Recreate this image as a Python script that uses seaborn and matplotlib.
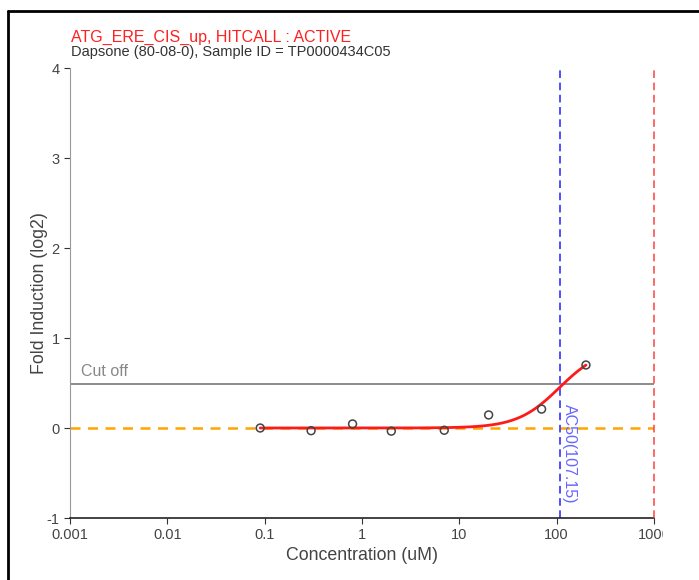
import numpy as np
import pandas as pd
import matplotlib
matplotlib.use("Agg")
import matplotlib.pyplot as plt
from matplotlib.lines import Line2D
from matplotlib.patches import Rectangle
import seaborn as sns

# measured points (concentration uM, fold induction log2)
conc = [0.09, 0.3, 0.8, 2.0, 7.0, 20.0, 70.0, 200.0]
resp = [0.0, -0.03, 0.045, -0.035, -0.025, 0.145, 0.21, 0.70]

# hill fit parameters
hill_top = 0.9
hill_ac50 = 107.15
hill_n = 2.0
cutoff = 0.49

x_ticks = [0.001, 0.01, 0.1, 1, 10, 100, 1000]
x_labels = ["0.001", "0.01", "0.1", "1", "10", "100", "1000"]
y_ticks = [-1, 0, 1, 2, 3, 4]

sns.set_style("ticks")
plt.rcParams['font.family'] = ['Liberation Sans', 'DejaVu Sans']
plt.rcParams['axes.unicode_minus'] = False

df = pd.DataFrame({"conc": conc, "resp": resp})
xf = np.logspace(np.log10(min(conc)), np.log10(max(conc)), 200)
fit = pd.DataFrame({"conc": xf, "resp": hill_top / (1 + (hill_ac50 / xf) ** hill_n)})

fig = plt.figure(figsize=(6.99, 5.8), dpi=100)
ax = fig.add_axes([70/699, 1-518/580, (654-70)/699, (518-68)/580])

ax.axhline(cutoff, color="#8c8c8c", lw=1.4, zorder=1)
ax.axhline(0, color="#ffa500", lw=1.8, ls=(0, (4, 3)), zorder=1)
ax.axvline(hill_ac50, color="#2020ff", lw=1.1, ls=(0, (5, 3)), zorder=1)
ax.axvline(1000, color="#ff4040", lw=1.1, ls=(0, (5, 3)), zorder=5, clip_on=False)

sns.lineplot(data=fit, x="conc", y="resp", color="#ff1a1a", lw=2, ax=ax, zorder=3)
sns.scatterplot(data=df, x="conc", y="resp", marker="o", s=32, facecolor="none",
                edgecolor="#444444", linewidth=1.1, ax=ax, zorder=4)

ax.set_xscale("log")
ax.set_xlim(0.001, 1000)
ax.set_ylim(-1, 4)
ax.set_xticks(x_ticks)
ax.set_xticklabels(x_labels)
ax.set_yticks(y_ticks)
ax.minorticks_off()
ax.tick_params(colors="#333333", labelsize=10.5, length=4, labelcolor="#444444")

ax.text(0.0013, cutoff + 0.05, "Cut off", color="#888888", fontsize=11.5, va="bottom")
ax.text(hill_ac50 * 1.05, 0.27, "AC50(107.15)", color="#6666ff", fontsize=11.5,
        rotation=270, va="top", ha="left")

sns.despine(ax=ax)
ax.spines["left"].set_color("#999999")
ax.spines["bottom"].set_color("#222222")
ax.spines["bottom"].set_linewidth(1.2)

ax.set_xlabel("Concentration (uM)", fontsize=12.8, color="#444444", labelpad=3)
ax.set_ylabel("Fold Induction (log2)", fontsize=12.8, color="#444444")
ax.yaxis.set_label_coords(-0.038, 0.5)

fig.text(71/699, 1-42/580, "ATG_ERE_CIS_up, HITCALL : ACTIVE", color="#ff2020",
         fontsize=11.5, va="baseline")
fig.text(71/699, 1-56/580, "Dapsone (80-08-0), Sample ID = TP0000434C05", color="#333333",
         fontsize=10.5, va="baseline")

# outer frame (left and top edge)
fig.add_artist(Line2D([8/699, 8/699], [0, 1-11/580], color="black", lw=2))
fig.add_artist(Line2D([8/699, 1], [1-11/580, 1-11/580], color="black", lw=2))
# the source image is cut off on the right of the last tick label
fig.add_artist(Rectangle((663/699, 0), 36/699, 1-520/580, color="white", zorder=10))

fig.savefig("out.png", dpi=100)
